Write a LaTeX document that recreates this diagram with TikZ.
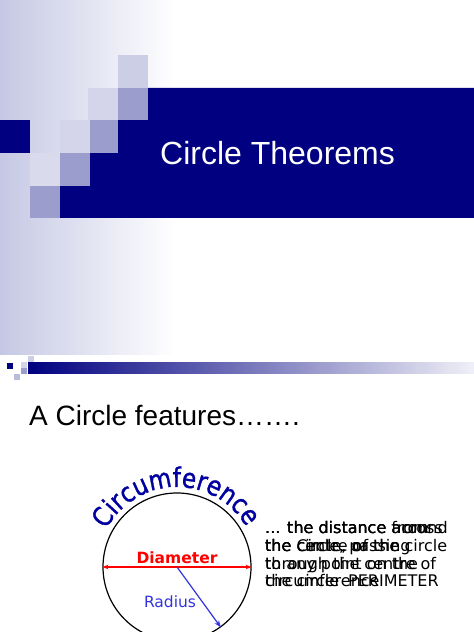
\documentclass[tikz,border=0pt]{standalone}
\usepackage{fontspec}
\setmainfont{Liberation Sans}
\newfontfamily\dejavu{DejaVu Sans}
\newfontfamily\circfont[FakeStretch=0.86, FakeBold=1.2]{DejaVu Sans}
\usetikzlibrary{arrows.meta, decorations.text}

\definecolor{navy}{RGB}{0,0,128}
\definecolor{bgblue}{RGB}{197,200,228}
\definecolor{sqlight}{RGB}{204,206,230}
\definecolor{sqmid}{RGB}{155,158,205}
\definecolor{circblue}{RGB}{0,0,160}
\definecolor{radblue}{RGB}{51,51,221}

\begin{document}
\begin{tikzpicture}[x=1pt, y=1pt,
  desc/.style={anchor=north west, align=left, inner sep=0, font=\dejavu\fontsize{16}{17.7}\selectfont},
  label/.style={inner sep=0, font=\dejavu\fontsize{15.5}{18}\selectfont}]
\useasboundingbox (0,0) rectangle (474,632);
\clip (0,0) rectangle (474,632);

\shade[left color=bgblue, right color=white] (0,277) rectangle (175,632);
\fill[navy] (148,544) -- (474,544) -- (474,414) -- (60,414) -- (60,446) -- (90,446) -- (90,479) -- (118,479) -- (118,512) -- (148,512) -- cycle;
\fill[navy] (0,512) rectangle (30,479);
\fill[sqlight] (118,577) rectangle (148,544);
\fill[sqlight!85] (88,544) rectangle (118,512);
\fill[sqmid] (118,544) rectangle (148,512);
\fill[sqlight!85] (60,512) rectangle (90,479);
\fill[sqmid] (90,512) rectangle (118,479);
\fill[sqlight!75] (30,479) rectangle (60,446);
\fill[sqmid] (60,479) rectangle (90,446);
\fill[sqmid] (30,446) rectangle (60,414);
\node[anchor=base west, inner sep=0, text=white, font=\fontsize{32}{38}\selectfont] (title) at (160,467) {Circle Theorems};

\shade[left color=navy, right color=navy!6] (28,269) rectangle (474,258);
\fill[navy] (7,269) rectangle (13,263);
\fill[sqlight] (28,276) rectangle (34,270);
\fill[sqlight!85] (21,270) rectangle (27,264);
\fill[sqmid] (21,264) rectangle (27,258);
\fill[sqmid!70] (14,258) rectangle (20,252);

\node[anchor=base west, inner sep=0, font=\fontsize{28}{34}\selectfont] (features) at (29,206) {A Circle features…….};

\node[circle, draw, line width=1.2pt, minimum size=148pt, inner sep=0] (circ) at (177,65) {};
\draw[red, line width=1.2pt, {Stealth[length=6pt]}-{Stealth[length=6pt]}] (circ.west) -- (circ.east);
\draw[radblue, line width=1.2pt, -{Stealth[length=7pt]}] (circ.center) -- (circ.-54);
\node[label, text=red, font=\dejavu\bfseries\fontsize{15.5}{18}\selectfont] (diam) at (177,74.5) {Diameter};
\node[label, text=radblue] (rad) at (170,30.5) {Radius};
\path[decorate, decoration={text along path, text align=center, text color=circblue,
  text={|\circfont\fontsize{27}{27}\selectfont|Circumference}}]
  (177,65) ++(161:80) arc[start angle=161, end angle=21, radius=80];

\node[desc] (across) at (265,110.7) {... the distance across\\the circle, passing\\through the centre of\\the circle};
\node[desc] (around) at (265,110.7) {... the distance around\\the Circle, or the\\[17.7pt]\hspace*{83pt}PERIMETER};
\node[desc] (from) at (265,110.7) {... the distance from\\the centre of the circle\\to any point on the\\circumference};
\end{tikzpicture}
\end{document}
